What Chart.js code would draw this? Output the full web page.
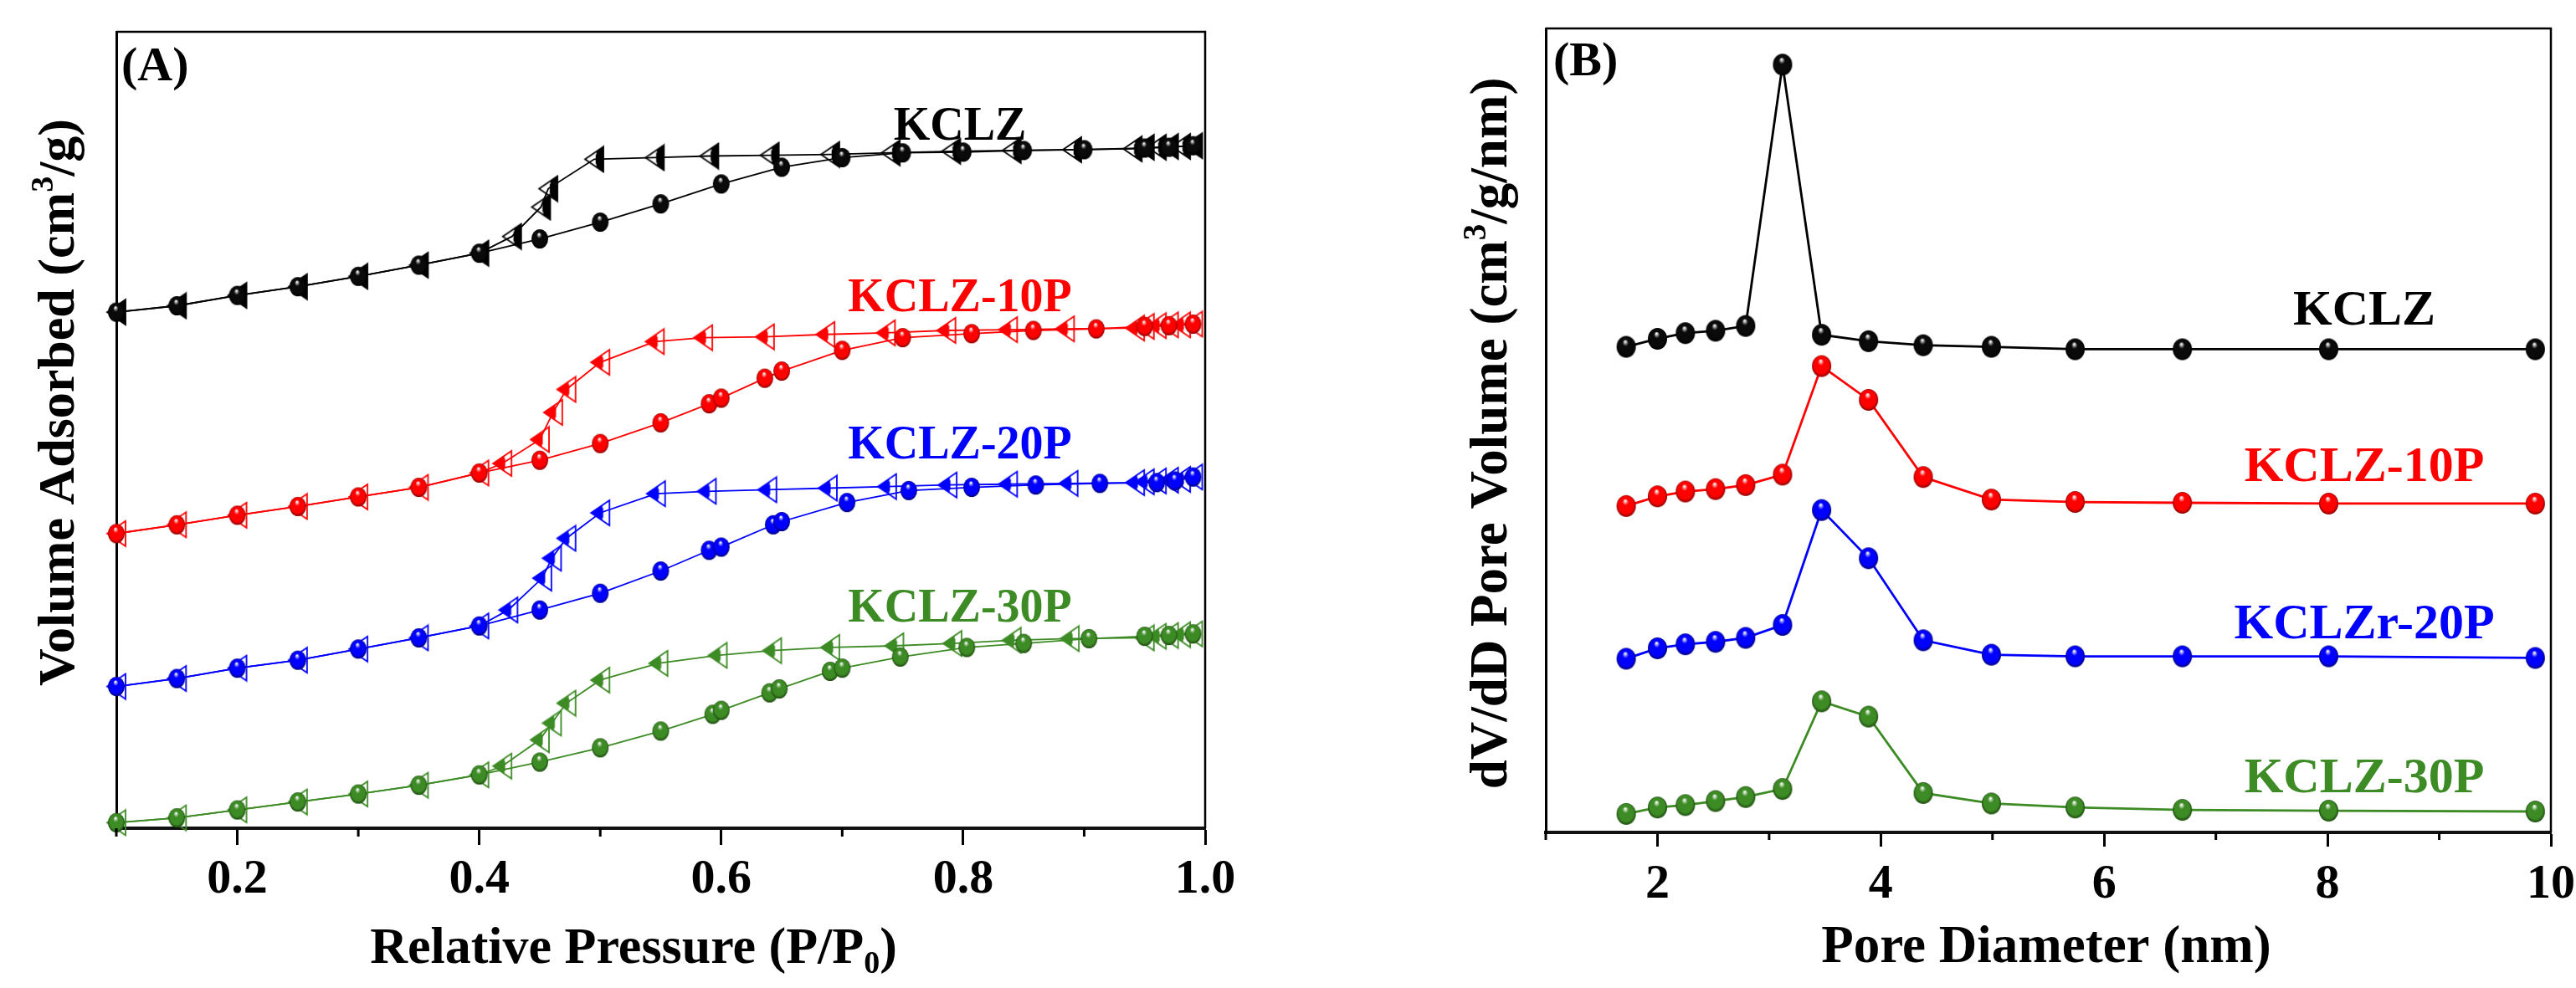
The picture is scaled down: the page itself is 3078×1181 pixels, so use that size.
<!DOCTYPE html>
<html>
<head>
<meta charset="utf-8">
<script src="https://cdn.jsdelivr.net/npm/chart.js@4.4.1/dist/chart.umd.min.js"></script>
<style>
  html, body { margin: 0; padding: 0; background: #fff; overflow: hidden; width: 3078px; height: 1181px; }
  #wrap { position: relative; width: 3078px; height: 1181px; overflow: hidden; }
  canvas { position: absolute; top: 0; }
  #chartA { left: 0; }
  #chartB { left: 1560px; }
</style>
</head>
<body>
<div id="wrap">
  <canvas id="chartA" width="1560" height="1181"></canvas>
  <canvas id="chartB" width="1600" height="1181"></canvas>
</div>
<script>
// ---------- panel A : N2 isotherms (arbitrary offset units) ----------
const pressureTicks = [0.2, 0.4, 0.6, 0.8, 1.0];
const pressureMinor = [0.1, 0.3, 0.5, 0.7, 0.9];
const namesA = ['KCLZ', 'KCLZ-10P', 'KCLZ-20P', 'KCLZ-30P'];

const kclzAdsX = [0.10, 0.15, 0.20, 0.25, 0.30, 0.35, 0.40, 0.45, 0.50, 0.55, 0.60, 0.65, 0.70, 0.75, 0.80, 0.85, 0.90, 0.95, 0.97, 0.99];
const kclzAdsY = [64.8, 65.6, 66.9, 68.0, 69.3, 70.7, 72.2, 74.0, 76.1, 78.4, 80.9, 83.0, 84.2, 84.8, 84.9, 85.1, 85.2, 85.4, 85.5, 85.7];
const kclzDesX = [0.99, 0.98, 0.97, 0.96, 0.95, 0.94, 0.89, 0.84, 0.79, 0.74, 0.69, 0.64, 0.59, 0.545, 0.495, 0.457, 0.451, 0.427, 0.40, 0.35, 0.30, 0.25, 0.20, 0.15, 0.10];
const kclzDesY = [85.7, 85.6, 85.6, 85.5, 85.5, 85.3, 85.2, 85.1, 85.0, 84.8, 84.6, 84.5, 84.4, 84.2, 84.0, 80.3, 78.0, 74.3, 72.2, 70.7, 69.3, 68.0, 66.9, 65.6, 64.8];

const p10AdsX = [0.10, 0.15, 0.20, 0.25, 0.30, 0.35, 0.40, 0.45, 0.50, 0.55, 0.59, 0.60, 0.636, 0.65, 0.70, 0.75, 0.807, 0.858, 0.91, 0.95, 0.97, 0.99];
const p10AdsY = [37.0, 38.1, 39.3, 40.4, 41.6, 42.8, 44.6, 46.2, 48.3, 50.9, 53.3, 54.0, 56.5, 57.4, 60.0, 61.6, 62.1, 62.5, 62.7, 63.0, 63.1, 63.3];
const p10DesX = [0.99, 0.98, 0.97, 0.96, 0.95, 0.942, 0.884, 0.837, 0.786, 0.736, 0.686, 0.636, 0.585, 0.545, 0.50, 0.472, 0.461, 0.45, 0.419, 0.40, 0.35, 0.30, 0.25, 0.20, 0.15, 0.10];
const p10DesY = [63.3, 63.2, 63.2, 63.1, 63.0, 62.8, 62.7, 62.6, 62.5, 62.2, 62.0, 61.7, 61.6, 61.1, 58.5, 55.1, 52.2, 48.8, 45.8, 44.6, 42.8, 41.6, 40.4, 39.3, 38.1, 37.0];

const p20AdsX = [0.10, 0.15, 0.20, 0.25, 0.30, 0.35, 0.40, 0.45, 0.50, 0.55, 0.59, 0.60, 0.643, 0.65, 0.704, 0.755, 0.807, 0.86, 0.913, 0.96, 0.975, 0.99];
const p20AdsY = [17.8, 18.8, 20.1, 21.1, 22.5, 23.9, 25.4, 27.4, 29.5, 32.3, 34.9, 35.3, 38.1, 38.5, 40.9, 42.4, 42.8, 43.1, 43.3, 43.4, 43.6, 44.1];
const p20DesX = [0.99, 0.98, 0.97, 0.96, 0.95, 0.942, 0.887, 0.837, 0.787, 0.737, 0.688, 0.638, 0.588, 0.546, 0.50, 0.472, 0.46, 0.452, 0.424, 0.40, 0.35, 0.30, 0.25, 0.20, 0.15, 0.10];
const p20DesY = [44.1, 43.8, 43.7, 43.6, 43.5, 43.4, 43.3, 43.2, 43.1, 42.9, 42.7, 42.5, 42.3, 42.0, 39.6, 36.4, 33.9, 31.4, 27.4, 25.4, 23.9, 22.5, 21.1, 20.1, 18.8, 17.8];

const p30AdsX = [0.10, 0.15, 0.20, 0.25, 0.30, 0.35, 0.40, 0.45, 0.50, 0.55, 0.593, 0.60, 0.64, 0.648, 0.69, 0.70, 0.748, 0.803, 0.85, 0.904, 0.95, 0.97, 0.99];
const p30AdsY = [0.7, 1.3, 2.3, 3.3, 4.3, 5.4, 6.7, 8.3, 10.1, 12.2, 14.3, 14.8, 17.0, 17.5, 19.7, 20.1, 21.5, 22.7, 23.2, 23.8, 24.1, 24.2, 24.4];
const p30DesX = [0.99, 0.98, 0.97, 0.96, 0.95, 0.888, 0.84, 0.791, 0.743, 0.69, 0.642, 0.597, 0.548, 0.50, 0.472, 0.46, 0.45, 0.419, 0.40, 0.35, 0.30, 0.25, 0.20, 0.15, 0.10];
const p30DesY = [24.4, 24.3, 24.2, 24.1, 23.9, 23.8, 23.6, 23.2, 22.9, 22.7, 22.3, 21.7, 20.7, 18.6, 15.7, 13.2, 11.1, 7.8, 6.7, 5.4, 4.3, 3.3, 2.3, 1.3, 0.7];

// ---------- panel B : pore size distribution ----------
const diameterTicks = [2, 4, 6, 8, 10];
const diameterMinor = [1, 3, 5, 7, 9];
const namesB = ['KCLZ', 'KCLZ-10P', 'KCLZr-20P', 'KCLZ-30P'];
const poreD = [1.72, 2.00, 2.25, 2.52, 2.79, 3.12, 3.47, 3.89, 4.38, 4.99, 5.74, 6.70, 8.01, 9.86];
const psdKCLZ = [60.4, 61.4, 62.1, 62.4, 63.0, 95.5, 61.9, 61.1, 60.6, 60.4, 60.1, 60.1, 60.1, 60.1];
const psd10P = [40.6, 41.8, 42.4, 42.7, 43.2, 44.5, 58.0, 53.8, 44.2, 41.4, 41.1, 41.0, 40.9, 40.9];
const psd20P = [21.6, 22.9, 23.4, 23.7, 24.2, 25.8, 40.1, 34.1, 23.9, 22.1, 21.9, 21.9, 21.9, 21.7];
const psd30P = [2.3, 3.1, 3.4, 3.9, 4.4, 5.4, 16.3, 14.4, 4.9, 3.6, 3.1, 2.8, 2.7, 2.6];

const colors = ['#000000', '#ff0000', '#0000ff', '#3d8b25'];
const darks = ['#000000', '#8a0000', '#00007a', '#1c4a0e'];
const SERIF = "'Times New Roman', 'Liberation Serif', serif";

const xy = (xs, ys) => xs.map((x, i) => ({ x: x, y: ys[i] }));

// sphere-looking marker
function ball(color, dark, w, h) {
  const c = document.createElement('canvas');
  c.width = w + 2; c.height = h + 2;
  const g = c.getContext('2d');
  const r = w / 2;
  g.translate(c.width / 2, c.height / 2);
  g.scale(1, h / w);
  const grad = g.createRadialGradient(-r * 0.1, -r * 0.5, r * 0.04, 0, 0, r);
  grad.addColorStop(0, '#ffffff');
  grad.addColorStop(0.28, color);
  grad.addColorStop(0.78, color);
  grad.addColorStop(1, dark);
  g.fillStyle = grad;
  g.beginPath(); g.arc(0, 0, r, 0, Math.PI * 2); g.fill();
  return c;
}

// left-pointing, half filled triangle
function halfTri(color, w, h, fillTip) {
  const c = document.createElement('canvas');
  c.width = w + 4; c.height = h + 4;
  const g = c.getContext('2d');
  const x0 = 2, x1 = 2 + w, y0 = 2, y1 = 2 + h, ym = 2 + h / 2;
  const split = x0 + w * 0.62;
  const path = () => { g.beginPath(); g.moveTo(x0, ym); g.lineTo(x1, y0); g.lineTo(x1, y1); g.closePath(); };
  g.save(); path(); g.clip();
  g.fillStyle = color;
  if (fillTip) g.fillRect(x0, y0, split - x0, h); else g.fillRect(split, y0, x1 - split, h);
  g.restore();
  g.strokeStyle = color; g.lineWidth = 1.8;
  path(); g.stroke();
  g.beginPath(); g.moveTo(split, y0 + (split - x0) / w * h / 2); g.lineTo(split, y1 - (split - x0) / w * h / 2); g.stroke();
  return c;
}

function drawRich(ctx, parts, size, x, y, rot) {
  ctx.save();
  ctx.translate(x, y);
  if (rot) ctx.rotate(rot);
  ctx.textBaseline = 'alphabetic';
  ctx.textAlign = 'left';
  const fontOf = p => 'bold ' + ((p.sup || p.sub) ? Math.round(size * 0.62) : size) + 'px ' + SERIF;
  let w = 0;
  const widths = parts.map(p => { ctx.font = fontOf(p); const m = ctx.measureText(p.t).width; w += m; return m; });
  let cx = -w / 2;
  parts.forEach((p, i) => {
    ctx.font = fontOf(p);
    ctx.fillText(p.t, cx, p.sup ? -size * 0.4 : (p.sub ? size * 0.2 : 0));
    cx += widths[i];
  });
  ctx.restore();
}

function deco(o) {
  return {
    id: 'deco',
    afterDraw(chart) {
      const { ctx, chartArea: a } = chart;
      const xs = chart.scales.x;
      ctx.save();
      ctx.strokeStyle = '#000';
      ctx.lineWidth = 2.5;
      ctx.beginPath();
      ctx.moveTo(a.left, a.top); ctx.lineTo(a.right, a.top); ctx.lineTo(a.right, a.bottom);
      ctx.stroke();
      ctx.lineWidth = 3;
      o.minor.forEach(v => {
        const px = xs.getPixelForValue(v);
        ctx.beginPath(); ctx.moveTo(px, a.bottom); ctx.lineTo(px, a.bottom + o.minorLen); ctx.stroke();
      });
      ctx.fillStyle = '#000';
      ctx.font = 'bold ' + o.panelSize + 'px ' + SERIF;
      ctx.textAlign = 'left'; ctx.textBaseline = 'alphabetic';
      ctx.fillText(o.panel, o.panelX, o.panelY);
      ctx.textAlign = 'center';
      ctx.font = 'bold ' + o.nameSize + 'px ' + SERIF;
      o.names.forEach((n, i) => { ctx.fillStyle = colors[i]; ctx.fillText(n, o.nameX, o.nameY[i]); });
      ctx.fillStyle = '#000';
      drawRich(ctx, o.xTitle, o.titleSize, o.xTitleX, o.xTitleY, 0);
      drawRich(ctx, o.yTitle, o.titleSize, o.yTitleX, o.yTitleY, -Math.PI / 2);
      ctx.restore();
    }
  };
}

function options(o) {
  return {
    responsive: false, animation: false, events: [], devicePixelRatio: 1,
    layout: { padding: { left: 0, top: o.top, right: o.right, bottom: 0 } },
    plugins: { legend: { display: false }, tooltip: { enabled: false } },
    scales: {
      x: {
        type: 'linear', min: o.xmin, max: o.xmax,
        afterBuildTicks: s => { s.ticks = o.major.map(v => ({ value: v })); },
        afterFit: s => { s.height = o.xh; },
        ticks: { color: '#000', font: { family: SERIF, size: 58, weight: 'bold' }, padding: o.tpad,
                 maxRotation: 0, autoSkip: false, callback: v => o.fmt(v) },
        grid: { drawOnChartArea: false, drawTicks: true, tickLength: o.tl, tickWidth: 3, tickColor: '#000' },
        border: { display: true, color: '#111', width: 4 }
      },
      y: {
        min: 0, max: 100,
        afterFit: s => { s.width = o.yw; },
        ticks: { display: false },
        grid: { display: true, drawOnChartArea: false, drawTicks: false },
        border: { display: true, color: '#000', width: 3 }
      }
    }
  };
}

function line(data, color, img, width) {
  return { data: data, borderColor: color, backgroundColor: color, borderWidth: width,
           pointStyle: img, pointRadius: 10, showLine: true, fill: false, tension: 0, clip: false };
}

// ---------- chart A ----------
const adsA = [[kclzAdsX, kclzAdsY], [p10AdsX, p10AdsY], [p20AdsX, p20AdsY], [p30AdsX, p30AdsY]];
const desA = [[kclzDesX, kclzDesY], [p10DesX, p10DesY], [p20DesX, p20DesY], [p30DesX, p30DesY]];
const dsA = [];
adsA.forEach((s, i) => dsA.push(line(xy(s[0], s[1]), colors[i], ball(colors[i] === '#000000' ? '#0a0a0a' : colors[i], darks[i], 20, 23), 1.8)));
desA.forEach((s, i) => dsA.push(line(xy(s[0], s[1]), colors[i], halfTri(colors[i], 22, 30, i !== 0), 1.8)));

new Chart(document.getElementById('chartA'), {
  type: 'line',
  data: { datasets: dsA },
  options: options({ top: 38, right: 120, xmin: 0.1, xmax: 1.0, major: pressureTicks, xh: 191, yw: 139,
                     tpad: 7, tl: 20, fmt: v => v.toFixed(1) }),
  plugins: [deco({
    minor: pressureMinor, minorLen: 10,
    panel: '(A)', panelSize: 58, panelX: 145, panelY: 96,
    names: namesA, nameSize: 56, nameX: 1147, nameY: [167, 372, 548, 743],
    titleSize: 62,
    xTitle: [{ t: 'Relative Pressure (P/P' }, { t: '0', sub: true }, { t: ')' }], xTitleX: 757, xTitleY: 1151,
    yTitle: [{ t: 'Volume Adsorbed (cm' }, { t: '3', sup: true }, { t: '/g)' }], yTitleX: 88, yTitleY: 481
  })]
});

// ---------- chart B ----------
const psdB = [psdKCLZ, psd10P, psd20P, psd30P];
const dsB = psdB.map((ys, i) => line(xy(poreD, ys), colors[i], ball(colors[i] === '#000000' ? '#0a0a0a' : colors[i], darks[i], 23, 26), 2.8));

new Chart(document.getElementById('chartB'), {
  type: 'line',
  data: { datasets: dsB },
  options: options({ top: 34, right: 112, xmin: 1, xmax: 10, major: diameterTicks, xh: 186, yw: 287,
                     tpad: 11, tl: 17, fmt: v => String(v) }),
  plugins: [deco({
    minor: diameterMinor, minorLen: 9,
    panel: '(B)', panelSize: 58, panelX: 296, panelY: 90,
    names: namesB, nameSize: 60, nameX: 1265, nameY: [388, 575, 763, 947],
    titleSize: 63,
    xTitle: [{ t: 'Pore Diameter (nm)' }], xTitleX: 885, xTitleY: 1150,
    yTitle: [{ t: 'dV/dD Pore Volume (cm' }, { t: '3', sup: true }, { t: '/g/nm)' }], yTitleX: 240, yTitleY: 518
  })]
});
</script>
</body>
</html>
